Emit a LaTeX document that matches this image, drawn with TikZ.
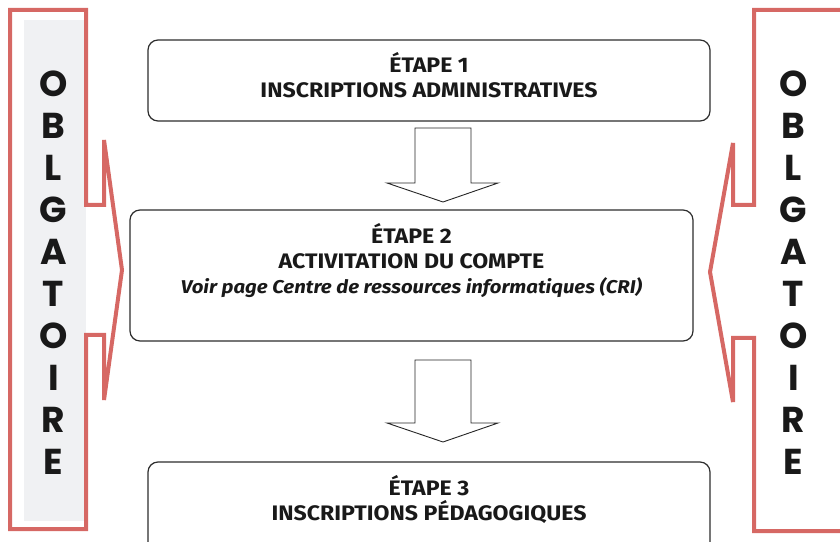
\documentclass[tikz,border=0pt]{standalone}
\usepackage{fontspec}
\setmainfont{Fira Sans}[FakeStretch=1.1]
\newfontfamily\letterfont{Poppins}
\usepackage{tikz}
\usetikzlibrary{calc}

\definecolor{framered}{RGB}{214,104,100}
\definecolor{framegray}{RGB}{240,241,243}
\definecolor{boxline}{RGB}{45,45,45}

\tikzset{
  frameline/.style={draw=framered, line width=4pt, line join=miter},
  stepbox/.style={draw=boxline, line width=1.2pt, rounded corners=10pt, inner sep=0pt},
  steptext/.style={align=center, font=\fontsize{21}{25}\selectfont\bfseries, text=black!90},
  vletter/.style={font=\letterfont\fontsize{36}{36}\selectfont\bfseries, text=black!90},
  hollow/.style={draw=black!85, line width=0.9pt, fill=white, line join=miter}
}

\newcommand\blockarrow[2]{%
  \draw[hollow] ($(#1)+(-28,0)$) -- ($(#1)+(28,0)$) -- ($(#2)+(28,19)$) -- ($(#2)+(55,19)$)
    -- (#2) -- ($(#2)+(-56,19)$) -- ($(#2)+(-28,19)$) -- cycle;}

\begin{document}
\begin{tikzpicture}[x=1pt, y=1pt]
  \useasboundingbox (0,0) rectangle (840,541);
  \clip (0,0) rectangle (840,541);

  % left column
  \fill[framegray] (24,20) rectangle (86,521);
  \draw[frameline] (10,531) -- (86,531) -- (86,336) -- (104,336) -- (104,401) -- (122,271)
    -- (104,141) -- (104,206) -- (86,206) -- (86,12) -- (10,12) -- cycle;
  % right column
  \draw[frameline] (850,531) -- (754,531) -- (754,336) -- (733,336) -- (733,398) -- (710,269)
    -- (733,139) -- (733,203) -- (754,203) -- (754,10) -- (850,10);

  \foreach \ch [count=\i from 0] in {O,B,L,G,A,T,O,I,R,E} {
    \node[vletter] (l\i) at (53.5, 457-42*\i) {\ch};
    \node[vletter] (r\i) at (793.5, 457-42*\i) {\ch};
  }

  % steps
  \node[stepbox, minimum width=562pt, minimum height=81pt] (b1) at (429,460.5) {};
  \node[stepbox, minimum width=563pt, minimum height=131pt] (b2) at (411.5,265.5) {};
  \node[stepbox, minimum width=562pt, minimum height=100pt] (b3) at (429,29) {};

  \node[steptext] (t1) at (429,466) {ÉTAPE 1\\INSCRIPTIONS ADMINISTRATIVES};
  \node[steptext] (t2) at (411.5,280) {ÉTAPE 2\\ACTIVITATION DU COMPTE\\
    {\fontsize{18.5}{25}\selectfont\itshape Voir page Centre de ressources informatiques (CRI)}};
  \node[steptext] (t3) at (429,41) {ÉTAPE 3\\INSCRIPTIONS PÉDAGOGIQUES};

  % arrows
  \coordinate (a1top) at (443,413);
  \coordinate (a1tip) at (443,339);
  \coordinate (a2top) at (443,181);
  \coordinate (a2tip) at (443,99);
  \blockarrow{a1top}{a1tip}
  \blockarrow{a2top}{a2tip}
\end{tikzpicture}
\end{document}
